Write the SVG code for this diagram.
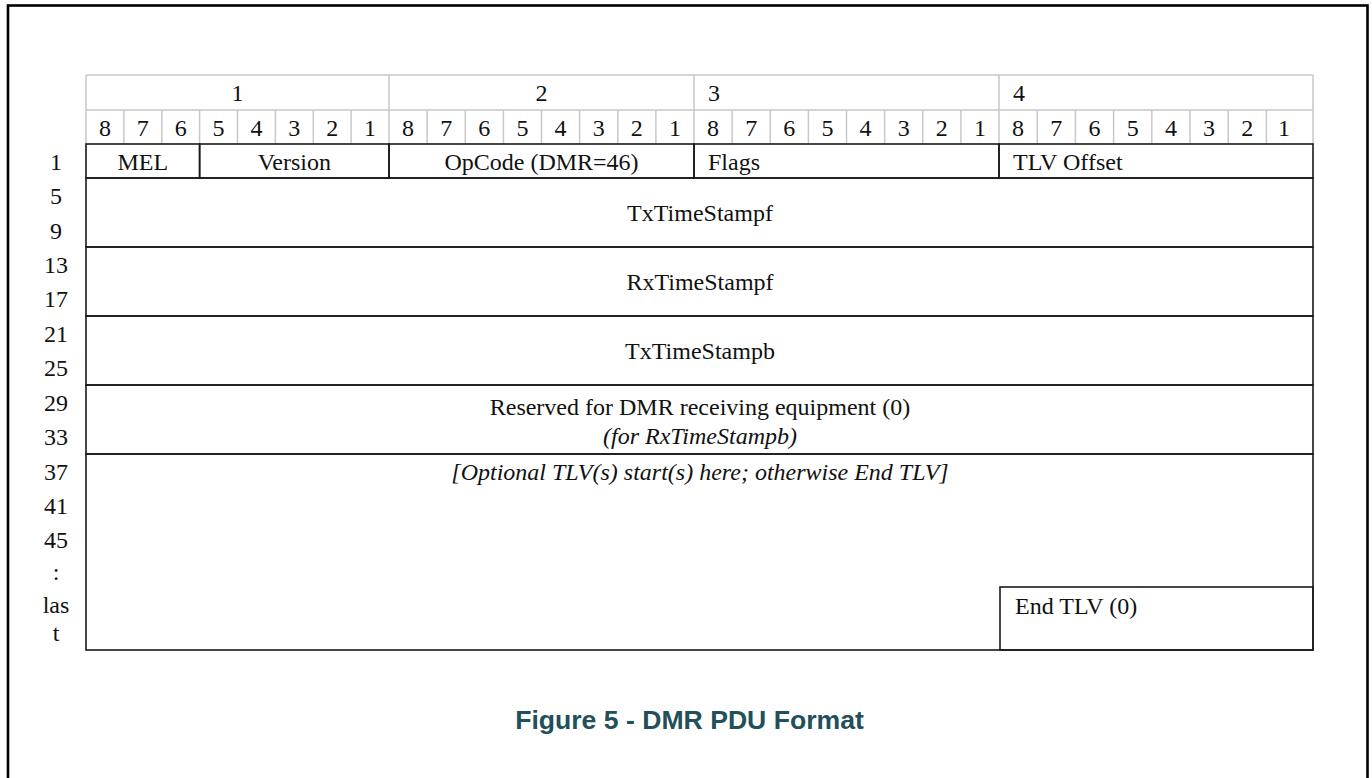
<svg xmlns="http://www.w3.org/2000/svg" width="1372" height="778" viewBox="0 0 1372 778">
  <style>
    .t { font-family: "Liberation Serif", "Times New Roman", serif; font-size: 24px; fill: #111; }
    .c { text-anchor: middle; }
    .i { font-style: italic; }
    .hdr { fill: none; stroke: #c8c8c8; stroke-width: 1.5; }
    .cell { fill: none; stroke: #1a1a1a; stroke-width: 1.6; }
    .cap { font-family: "Liberation Sans", Arial, sans-serif; font-size: 26.6px; font-weight: bold; fill: #22505a; text-anchor: middle; }
  </style>

  <!-- page frame -->
  <rect x="0" y="0" width="1372" height="778" fill="#fff"/>
  <rect id="frame" x="8" y="5.5" width="1359.5" height="800" fill="none" stroke="#000" stroke-width="2.6"/>

  <!-- octet / bit header -->
  <g id="header">
    <path class="hdr" d="M86 75H1313M86 110H1313M86 75V144M389 75V144M694 75V144M999 75V144M1313 75V144"/>
    <path class="hdr" d="M123.9 110V144M161.8 110V144M199.6 110V144M237.5 110V144M275.4 110V144M313.3 110V144M351.1 110V144
                         M427.1 110V144M465.3 110V144M503.4 110V144M541.5 110V144M579.6 110V144M617.8 110V144M655.9 110V144
                         M732.1 110V144M770.3 110V144M808.4 110V144M846.5 110V144M884.6 110V144M922.8 110V144M960.9 110V144
                         M1037.2 110V144M1075.4 110V144M1113.6 110V144M1151.8 110V144M1190 110V144M1228.2 110V144M1266.4 110V144"/>
    <text class="t c" x="237.5" y="101">1</text>
    <text class="t c" x="541.5" y="101">2</text>
    <text class="t" x="708" y="101">3</text>
    <text class="t" x="1013" y="101">4</text>
    <g class="t c">
      <text x="104.9" y="136">8</text><text x="142.8" y="136">7</text><text x="180.7" y="136">6</text><text x="218.6" y="136">5</text>
      <text x="256.4" y="136">4</text><text x="294.3" y="136">3</text><text x="332.2" y="136">2</text><text x="370.1" y="136">1</text>
      <text x="408.1" y="136">8</text><text x="446.2" y="136">7</text><text x="484.3" y="136">6</text><text x="522.5" y="136">5</text>
      <text x="560.6" y="136">4</text><text x="598.7" y="136">3</text><text x="636.8" y="136">2</text><text x="674.9" y="136">1</text>
      <text x="713.1" y="136">8</text><text x="751.2" y="136">7</text><text x="789.3" y="136">6</text><text x="827.5" y="136">5</text>
      <text x="865.6" y="136">4</text><text x="903.7" y="136">3</text><text x="941.8" y="136">2</text><text x="979.9" y="136">1</text>
      <text x="1018.1" y="136">8</text><text x="1056.3" y="136">7</text><text x="1094.5" y="136">6</text><text x="1132.7" y="136">5</text>
      <text x="1170.9" y="136">4</text><text x="1209.1" y="136">3</text><text x="1247.3" y="136">2</text><text x="1284" y="136">1</text>
    </g>
  </g>

  <!-- row offsets -->
  <g id="offsets" class="t c">
    <text x="56" y="170">1</text>
    <text x="56" y="204">5</text>
    <text x="56" y="239">9</text>
    <text x="56" y="273">13</text>
    <text x="56" y="307">17</text>
    <text x="56" y="342">21</text>
    <text x="56" y="376">25</text>
    <text x="56" y="411">29</text>
    <text x="56" y="445">33</text>
    <text x="56" y="480">37</text>
    <text x="56" y="514">41</text>
    <text x="56" y="548">45</text>
    <text x="56" y="580">:</text>
    <text x="56" y="613">las</text>
    <text x="56" y="641">t</text>
  </g>

  <!-- PDU fields -->
  <g id="field-mel">
    <rect class="cell" x="86" y="144" width="113.6" height="34"/>
    <text class="t c" x="142.8" y="170">MEL</text>
  </g>
  <g id="field-version">
    <rect class="cell" x="199.6" y="144" width="189.4" height="34"/>
    <text class="t c" x="294.3" y="170">Version</text>
  </g>
  <g id="field-opcode">
    <rect class="cell" x="389" y="144" width="305" height="34"/>
    <text class="t c" x="541.5" y="170">OpCode (DMR=46)</text>
  </g>
  <g id="field-flags">
    <rect class="cell" x="694" y="144" width="305" height="34"/>
    <text class="t" x="708" y="170">Flags</text>
  </g>
  <g id="field-tlv-offset">
    <rect class="cell" x="999" y="144" width="314" height="34"/>
    <text class="t" x="1013" y="170">TLV Offset</text>
  </g>
  <g id="field-txtimestampf">
    <rect class="cell" x="86" y="178" width="1227" height="69"/>
    <text class="t c" x="700" y="221">TxTimeStampf</text>
  </g>
  <g id="field-rxtimestampf">
    <rect class="cell" x="86" y="247" width="1227" height="69"/>
    <text class="t c" x="700" y="290">RxTimeStampf</text>
  </g>
  <g id="field-txtimestampb">
    <rect class="cell" x="86" y="316" width="1227" height="69"/>
    <text class="t c" x="700" y="359">TxTimeStampb</text>
  </g>
  <g id="field-reserved">
    <rect class="cell" x="86" y="385" width="1227" height="69"/>
    <text class="t c" x="700" y="415">Reserved for DMR receiving equipment (0)</text>
    <text class="t c i" x="700" y="444">(for RxTimeStampb)</text>
  </g>
  <g id="field-tlvs">
    <rect class="cell" x="86" y="454" width="1227" height="196"/>
    <text class="t c i" x="700" y="480">[Optional TLV(s) start(s) here; otherwise End TLV]</text>
  </g>
  <g id="field-end-tlv">
    <rect class="cell" x="1000" y="587" width="313" height="63" fill="#fff" stroke-width="2"/>
    <text class="t" x="1015" y="614">End TLV (0)</text>
  </g>

  <g id="connectors"/>

  <text id="caption" class="cap" x="689.5" y="729">Figure 5 - DMR PDU Format</text>
</svg>
